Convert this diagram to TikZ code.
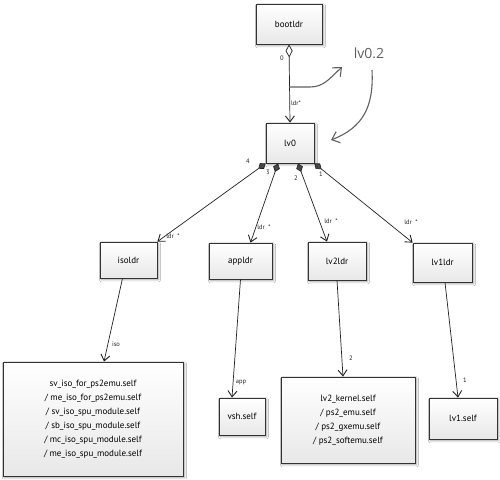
\documentclass[tikz,border=0pt]{standalone}
\usepackage{fontspec}
\setmainfont{PT Sans}
\newfontfamily\notefont{Open Sans}
\usetikzlibrary{arrows.meta,shadows.blur,calc}
\definecolor{edge}{HTML}{222222}
\definecolor{boxline}{HTML}{333333}
\tikzset{
  umlbox/.style={draw=boxline, line width=0.8pt, top color=white, bottom color=gray!18,
    blur shadow={shadow xshift=1.5pt, shadow yshift=-1.8pt, shadow blur steps=6, shadow opacity=35},
    font=\fontsize{9}{14}\selectfont, align=center, inner sep=2pt},
  conn/.style={draw=edge, line width=0.7pt, -{Straight Barb[length=6pt,width=9pt,line width=0.9pt]}},
  aggr/.style={conn, {Diamond[open,length=13pt,width=7pt,line width=0.7pt]}-{Straight Barb[length=6pt,width=9pt,line width=0.9pt]}},
  comp/.style={conn, {Diamond[length=9pt,width=7pt,fill=gray!55!black,line width=0.6pt]}-{Straight Barb[length=6pt,width=9pt,line width=0.9pt]}},
  lbl/.style={font=\fontsize{6.5}{7}\selectfont, inner sep=0pt, text=edge},
  note/.style={draw=gray!75!black, line width=1.1pt, -{Straight Barb[length=7pt,width=12pt,line width=1.1pt]}}
}
\begin{document}
\begin{tikzpicture}[x=1pt,y=-1pt]
\useasboundingbox (0,0) rectangle (500,479);
\fill[white] (0,0) rectangle (500,479);

\node[umlbox, minimum width=66pt, minimum height=40pt] (bootldr) at (289,24) {bootldr};
\node[umlbox, minimum width=48pt, minimum height=40pt] (lv0) at (290,143) {lv0};
\node[umlbox, minimum width=57pt, minimum height=36pt] (isoldr) at (128.5,260) {isoldr};
\node[umlbox, minimum width=63pt, minimum height=36pt] (appldr) at (240.5,261) {appldr};
\node[umlbox, minimum width=58pt, minimum height=38pt] (lv2ldr) at (337,261) {lv2ldr};
\node[umlbox, minimum width=59pt, minimum height=39pt] (lv1ldr) at (442.5,262.5) {lv1ldr};
\node[umlbox, minimum width=180pt, minimum height=114pt] (isoself) at (93,419)
  {sv\_iso\_for\_ps2emu.self\\/ me\_iso\_for\_ps2emu.self\\/ sv\_iso\_spu\_module.self\\/ sb\_iso\_spu\_module.self\\/ mc\_iso\_spu\_module.self\\/ me\_iso\_spu\_module.self};
\node[umlbox, minimum width=46pt, minimum height=37pt] (vsh) at (242,416.5) {vsh.self};
\node[umlbox, minimum width=134pt, minimum height=86pt] (lv2k) at (348,420)
  {lv2\_kernel.self\\/ ps2\_emu.self\\/ ps2\_gxemu.self\\/ ps2\_softemu.self};
\node[umlbox, minimum width=68pt, minimum height=41pt] (lv1self) at (463,418.5) {lv1.self};

% connectors
\draw[aggr] (bootldr.south) -- (lv0.north)
  node[lbl] at (282,58) {0}
  node[lbl] at (296,103) {ldr*};
\coordinate (notestart) at (289,87);

\draw[comp] (lv0.south west) -- (isoldr.north east)
  node[lbl] at (248,161) {4}
  node[lbl] at (173,236) {ldr\ \ *};
\draw[comp] ([xshift=-12pt]lv0.south) -- ([xshift=10pt]appldr.north)
  node[lbl] at (268,172) {3}
  node[lbl] at (264,227) {ldr\ \ *};
\draw[comp] ([xshift=8pt]lv0.south) -- ([xshift=-10pt]lv2ldr.north)
  node[lbl] at (296,178) {2}
  node[lbl] at (331,221) {ldr\ \ *};
\draw[comp] (lv0.south east) -- (lv1ldr.north west)
  node[lbl] at (321,174) {1}
  node[lbl] at (411,222) {ldr\ \ *};

\draw[conn] ([xshift=-6pt]isoldr.south) -- ([xshift=11pt]isoself.north)
  node[lbl] at (116,344) {iso};
\draw[conn] (appldr.south) -- ([xshift=-10pt]vsh.north)
  node[lbl] at (241,382) {app};
\draw[conn] (lv2ldr.south) -- ([xshift=-5pt]lv2k.north)
  node[lbl] at (351,358) {2};
\draw[conn] ([xshift=2.5pt]lv1ldr.south) -- ([xshift=-5pt]lv1self.north)
  node[lbl] at (465,380) {1};

% note
\node[font=\notefont\fontsize{14}{16}\selectfont, text=gray!75!black, inner sep=0pt] (notetext) at (369,53) {lv0.2};
\draw[note] (notestart) -- (310,87) .. controls (324,87) and (330,78) .. (342,67);
\coordinate (note2start) at (372,70);
\draw[note] (note2start) .. controls (374,108) and (362,128) .. (331,140);
\end{tikzpicture}
\end{document}
